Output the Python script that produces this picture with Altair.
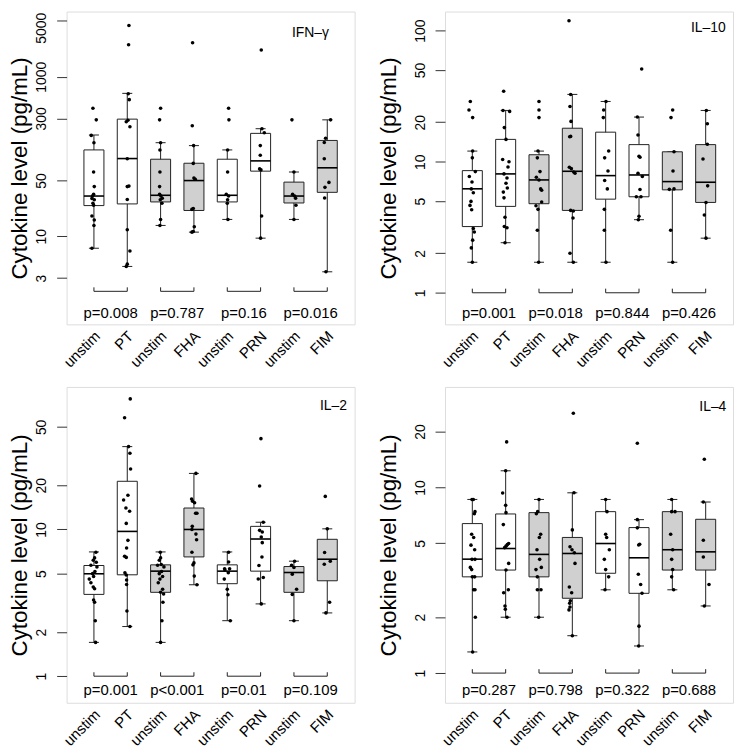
import altair as alt
import pandas as pd

groups = ["unstim", "PT", "unstim", "FHA", "unstim", "PRN", "unstim", "FIM"]
box_fill = ["#ffffff", "#ffffff", "#d0d0d0", "#d0d0d0", "#ffffff", "#ffffff", "#d0d0d0", "#d0d0d0"]
pair_start = [1, 3, 5, 7]

# ---------------- IFN-gamma ----------------
ifn_q1 = [24.3, 25.5, 27, 21.1, 27, 65.6, 26.2, 35.6]
ifn_med = [32, 94.3, 32.7, 50, 32.7, 88.2, 32, 72.2]
ifn_q3 = [121, 294, 92.5, 82.4, 92.5, 195, 47.8, 159]
ifn_lo = [7.1, 4.2, 13.7, 11.3, 16.3, 9.5, 16.3, 3.6]
ifn_hi = [186, 618, 149, 137, 121, 223, 64, 288]
ifn_pts = [
    [402, 288, 184, 149, 64, 42, 33.6, 32, 29.9, 28.8, 26, 24.5, 18, 16, 13.7, 7.1],
    [4375, 2515, 610, 516, 285, 272, 236, 94, 42.6, 42, 28.9, 12.1, 6.57, 4.49, 4.2],
    [402, 288, 149, 121, 64, 42, 33.6, 32, 30, 28.8, 26, 16.3, 13.7],
    [2663, 243, 137, 82, 53.7, 52, 22.3, 21.8, 13.2, 11.5, 11.3],
    [402, 288, 121, 64, 33.6, 32, 28.8, 26, 16.3],
    [2160, 223, 199, 137, 104, 70, 68, 18, 9.5],
    [288, 64, 33.6, 32, 30, 24.5, 16.3],
    [288, 169, 150, 94, 47.4, 41.1, 30.3, 3.6],
]
ifn_jit = [
    [-0.03, 0.07, -0.08, 0.0, -0.01, 0.01, -0.01, -0.04, -0.06, 0.01, -0.03, -0.01, -0.06, 0.01, 0.0, -0.06],
    [0.05, 0.04, 0.03, 0.06, 0.02, -0.03, 0.08, 0.0, 0.05, 0.0, 0.0, 0.0, 0.08, 0.0, -0.03],
    [0.0, -0.03, 0.0, -0.02, -0.02, -0.03, -0.03, 0.01, 0.05, -0.01, 0.04, 0.0, -0.02],
    [-0.04, -0.05, -0.01, -0.02, 0.0, 0.04, -0.02, -0.06, 0.01, -0.02, -0.06],
    [0.04, 0.05, 0.01, 0.01, -0.03, 0.04, 0.01, 0.0, 0.02],
    [0.02, 0.04, 0.11, -0.01, -0.01, -0.03, 0.01, 0.03, 0.0],
    [-0.06, 0.0, -0.04, 0.02, 0.05, 0.06, 0.0],
    [0.1, -0.05, -0.09, -0.09, 0.05, -0.07, -0.08, -0.04],
]
ifn_p = ["p=0.008", "p=0.787", "p=0.16", "p=0.016"]
ifn_ticks = [3, 10, 50, 300, 1000, 5000]
ifn_domain = [0.79, 6546]

# ---------------- IL-10 ----------------
il10_q1 = [3.2, 4.56, 4.78, 4.25, 5.18, 5.4, 6.1, 4.89]
il10_med = [6.21, 8.07, 7.26, 8.45, 7.83, 7.92, 7.05, 6.97]
il10_q3 = [8.55, 14.8, 11.3, 18.0, 16.8, 13.5, 11.9, 13.5]
il10_lo = [1.71, 2.41, 1.71, 1.71, 1.71, 3.61, 1.71, 2.61]
il10_hi = [12.05, 24.6, 12.05, 32.6, 28.8, 21.9, 11.9, 24.6]
il10_pts = [
    [28.8, 24.8, 21.7, 12.05, 10.7, 8.4, 7.7, 7.0, 6.2, 5.79, 4.98, 4.64, 4.3, 3.09, 2.91, 2.52, 2.2, 1.71],
    [34.5, 24.6, 24.2, 18.2, 14.8, 10.4, 10.0, 9.1, 8.07, 7.52, 6.85, 6.3, 5.86, 5.3, 3.77, 3.2, 3.13, 2.41],
    [28.8, 24.8, 21.7, 12.05, 10.7, 8.4, 7.6, 7.26, 6.2, 6.06, 4.92, 4.61, 4.33, 3.0, 1.71],
    [119, 32.6, 26.4, 20.3, 15.6, 15.5, 9.06, 8.85, 8.35, 8.16, 4.25, 4.2, 3.72, 2.0, 1.71],
    [28.8, 24.8, 21.7, 12.05, 10.7, 8.5, 7.18, 6.2, 4.33, 3.0, 1.71],
    [50.9, 21.9, 16.0, 11.0, 10.8, 8.16, 7.7, 6.14, 5.4, 5.4, 3.83, 3.61],
    [24.8, 21.7, 11.9, 8.5, 6.2, 6.15, 3.0, 1.71],
    [24.6, 19.5, 13.6, 10.5, 6.54, 4.89, 3.92, 2.61],
]
il10_jit = [
    [-0.06, -0.10, 0.01, 0.01, 0.0, 0.09, -0.09, -0.01, -0.03, 0.03, -0.04, -0.07, -0.02, 0.03, 0.06, 0.01, -0.03, 0.0],
    [-0.06, -0.08, 0.12, -0.04, 0.01, -0.09, 0.10, 0.07, -0.05, 0.04, 0.01, 0.05, -0.07, -0.05, -0.02, -0.04, 0.04, -0.02],
    [0.0, 0.0, 0.0, -0.03, -0.05, 0.03, -0.08, 0.0, 0.05, 0.08, 0.08, -0.09, -0.03, -0.05, -0.01],
    [-0.10, -0.05, -0.07, -0.04, -0.05, -0.08, -0.09, -0.03, 0.04, 0.08, -0.05, 0.03, 0.02, -0.07, 0.03],
    [0.01, -0.06, -0.07, 0.09, -0.03, 0.07, -0.03, 0.05, -0.04, -0.04, 0.01],
    [0.08, -0.05, -0.03, 0.0, 0.03, -0.03, 0.10, 0.03, -0.08, 0.06, 0.0, -0.02],
    [0.01, -0.04, 0.05, 0.02, 0.05, -0.09, -0.05, 0.01],
    [0.02, 0.05, 0.05, -0.08, 0.06, 0.01, -0.04, 0.01],
]
il10_p = ["p=0.001", "p=0.018", "p=0.844", "p=0.426"]
il10_ticks = [1, 2, 5, 10, 20, 50, 100]
il10_domain = [0.574, 139.8]

# ---------------- IL-2 ----------------
il2_q1 = [3.61, 4.91, 3.73, 6.5, 4.27, 5.2, 3.73, 4.47]
il2_med = [4.99, 9.7, 5.2, 10.0, 5.2, 8.61, 5.09, 6.27]
il2_q3 = [5.68, 21.3, 5.74, 14.0, 5.74, 10.5, 5.59, 8.57]
il2_lo = [1.70, 2.18, 1.70, 4.2, 2.39, 3.11, 2.39, 2.70]
il2_hi = [7.03, 36.7, 7.03, 24.1, 7.03, 11.2, 6.08, 10.1]
il2_pts = [
    [7.0, 6.4, 6.17, 5.98, 5.7, 5.56, 5.17, 5.0, 4.78, 4.59, 4.33, 4.05, 3.94, 3.31, 3.19, 2.39, 1.70],
    [77.6, 57.7, 36.7, 33.1, 25.8, 17.1, 15.9, 14.0, 13.3, 11.0, 8.43, 7.48, 6.57, 6.45, 5.07, 4.9, 4.52, 4.22, 2.78, 2.18],
    [7.0, 6.4, 6.17, 5.77, 5.7, 5.56, 5.17, 5.0, 4.78, 4.59, 4.33, 3.91, 3.73, 3.63, 3.19, 2.39, 1.70],
    [24.1, 16.1, 15.6, 15.2, 12.9, 12.9, 10.5, 10.0, 9.3, 8.52, 6.99, 5.92, 5.74, 4.81, 4.2],
    [7.0, 6.01, 5.39, 5.39, 5.3, 5.07, 4.59, 3.91, 3.59, 2.39],
    [41.6, 19.8, 11.2, 9.86, 9.6, 8.88, 8.13, 6.5, 5.68, 4.71, 4.6, 3.11],
    [6.08, 5.71, 5.5, 4.96, 3.91, 3.61, 2.39],
    [16.8, 10.1, 6.96, 6.08, 5.8, 3.19, 2.70],
]
il2_jit = [
    [0.06, 0.02, -0.02, 0.07, -0.09, 0.09, 0.03, -0.04, -0.01, -0.14, -0.09, -0.02, 0.02, -0.01, 0.02, 0.04, 0.05],
    [0.09, -0.08, 0.04, 0.08, 0.10, 0.02, -0.11, -0.04, 0.07, -0.03, 0.02, -0.02, -0.08, -0.03, -0.07, -0.03, -0.02, -0.02, -0.01, 0.08],
    [-0.01, 0.0, -0.04, 0.02, -0.09, 0.10, 0.03, -0.04, 0.06, -0.02, -0.07, 0.06, 0.0, 0.09, 0.07, 0.04, 0.0],
    [0.06, -0.07, -0.04, 0.02, 0.05, 0.09, -0.05, -0.06, 0.06, 0.08, -0.06, 0.0, -0.03, 0.01, 0.09],
    [0.04, 0.04, -0.08, 0.07, -0.07, 0.03, -0.09, 0.0, 0.02, 0.09],
    [0.01, -0.03, 0.08, -0.03, 0.05, 0.02, 0.05, 0.04, -0.05, 0.08, -0.07, 0.02],
    [0.02, -0.07, 0.0, -0.05, 0.08, -0.05, 0.0],
    [-0.06, 0.0, -0.08, 0.09, -0.09, 0.07, -0.04],
]
il2_p = ["p=0.001", "p<0.001", "p=0.01", "p=0.109"]
il2_ticks = [1, 2, 5, 10, 20, 50]
il2_domain = [0.659, 93.6]

# ---------------- IL-4 ----------------
il4_q1 = [3.3, 3.59, 3.3, 2.53, 3.45, 2.69, 3.59, 3.59]
il4_med = [4.11, 4.69, 4.36, 4.41, 4.99, 4.18, 4.62, 4.5]
il4_q3 = [6.39, 7.2, 7.32, 5.38, 7.41, 6.08, 7.41, 6.74]
il4_lo = [1.30, 2.0, 2.0, 1.59, 2.81, 1.40, 2.81, 2.3]
il4_hi = [8.62, 12.3, 8.62, 9.36, 8.62, 6.71, 8.62, 8.35]
il4_pts = [
    [8.62, 8.62, 7.41, 7.22, 5.6, 5.38, 4.89, 4.62, 4.1, 4.1, 3.71, 3.61, 3.3, 3.3, 2.81, 2.81, 2.0, 1.30],
    [17.6, 12.3, 9.33, 8.01, 7.32, 6.31, 4.99, 4.92, 4.83, 4.74, 3.9, 3.59, 2.81, 2.71, 2.3, 2.21, 2.0],
    [8.62, 7.41, 7.22, 5.6, 5.38, 4.62, 4.1, 3.71, 3.61, 3.3, 2.81, 2.81, 2.0],
    [25.1, 9.36, 5.91, 4.79, 4.62, 4.45, 3.9, 2.91, 2.71, 2.45, 2.38, 2.27, 2.19, 1.59],
    [8.62, 7.41, 5.6, 5.38, 4.62, 4.1, 3.61, 3.3, 2.81],
    [17.3, 6.71, 6.06, 4.95, 4.9, 3.41, 3.0, 2.69, 1.79, 1.40],
    [8.62, 7.41, 7.41, 5.6, 4.62, 4.1, 3.61, 3.3, 2.81],
    [14.2, 8.35, 5.2, 4.22, 3.0, 2.3],
]
il4_jit = [
    [-0.01, 0.03, 0.08, 0.06, -0.02, 0.04, -0.04, 0.07, -0.01, 0.08, -0.06, -0.02, 0.0, 0.07, 0.04, 0.08, 0.09, 0.01],
    [0.03, 0.0, -0.09, 0.0, 0.01, -0.07, 0.09, 0.05, 0.01, -0.03, 0.09, 0.01, 0.08, -0.06, -0.02, -0.01, 0.04],
    [0.0, -0.04, -0.08, 0.05, 0.01, -0.06, 0.02, 0.07, -0.09, -0.05, -0.05, 0.06, -0.01],
    [0.03, 0.05, 0.0, -0.07, -0.01, 0.06, 0.08, -0.09, -0.02, -0.06, -0.08, -0.07, -0.10, 0.0],
    [0.0, 0.04, 0.0, 0.03, 0.11, -0.04, 0.0, 0.09, -0.02],
    [-0.05, -0.05, -0.05, 0.02, -0.01, -0.02, 0.05, 0.09, 0.0, -0.01],
    [-0.02, -0.02, 0.08, -0.05, 0.01, -0.02, 0.01, -0.02, 0.04],
    [-0.04, -0.07, -0.07, -0.07, 0.10, -0.04],
]
il4_p = ["p=0.287", "p=0.798", "p=0.322", "p=0.688"]
il4_ticks = [1, 2, 5, 10, 20]
il4_domain = [0.692, 34.8]

FONT = "Liberation Sans"
LINE = "#222222"
label_expr = "[" + ",".join("'%s'" % g for g in groups) + "][datum.value - 1]"


def make_panel(name, q1, med, q3, lo, hi, pts, jit, pvals, ydomain, yticks,
               br_y, br_top, p_y, lab_x, lab_y, height, title_x, top_label_shift):
    xs = alt.Scale(domain=[0.18, 8.82], nice=False, zero=False)
    ys = alt.Scale(type="log", domain=ydomain, nice=False)
    xaxis = alt.Axis(values=list(range(1, 9)), labelExpr=label_expr, labelAngle=315,
                     labelAlign="right", labelBaseline="middle", labelFontSize=15,
                     labelPadding=9, labelOffset=3, ticks=False, domain=False, grid=False,
                     title=None, labelOverlap=False, labelFlush=False, labelColor="black",
                     labelFont=FONT)
    top_val = max(yticks)
    yaxis = alt.Axis(values=yticks, format="d", labelAngle=270, labelAlign="center",
                     labelBaseline="bottom", labelFontSize=14, labelPadding=8, tickSize=10,
                     labelOffset={"condition": {"test": "datum.value == %d" % top_val,
                                                "value": top_label_shift}, "value": 0},
                     tickColor="#333333", domain=False, grid=False,
                     title="Cytokine level (pg/mL)", titleFontSize=22.5, titleFontWeight="normal",
                     titleAngle=270, titleAlign="center", titleBaseline="alphabetic",
                     titleX=title_x, titleY=height / 2, labelOverlap=False, labelColor="black",
                     titleColor="black", labelFont=FONT, titleFont=FONT)

    def X(f):
        return alt.X(f, type="quantitative", scale=xs, axis=xaxis)

    def Y(f):
        return alt.Y(f, type="quantitative", scale=ys, axis=yaxis)

    g = list(range(1, 9))
    box = pd.DataFrame({"g": g, "q1": q1, "med": med, "q3": q3, "lo": lo, "hi": hi,
                        "fill": box_fill})
    box["b0"] = box["g"] - 0.3
    box["b1"] = box["g"] + 0.3
    box["c0"] = box["g"] - 0.15
    box["c1"] = box["g"] + 0.15

    rows = []
    for i in range(8):
        for v, j in zip(pts[i], jit[i]):
            rows.append({"px": g[i] + j, "v": v})
    pt_df = pd.DataFrame(rows)

    br = pd.DataFrame({"a": pair_start, "b": [s + 1 for s in pair_start],
                       "y": [br_y] * 4, "mid": [s + 0.5 for s in pair_start],
                       "py": [p_y] * 4, "txt": pvals})
    br_t = pd.DataFrame({"xe": g, "y": [br_y] * 8, "top": [br_top] * 8})
    lab = pd.DataFrame({"x": [lab_x], "y": [lab_y], "t": [name]})

    whisk = alt.Chart(box).mark_rule(color=LINE, strokeWidth=1).encode(x=X("g"), y=Y("lo"), y2="hi")
    cap_lo = alt.Chart(box).mark_rule(color=LINE, strokeWidth=1).encode(x=X("c0"), x2="c1", y=Y("lo"))
    cap_hi = alt.Chart(box).mark_rule(color=LINE, strokeWidth=1).encode(x=X("c0"), x2="c1", y=Y("hi"))
    rect = alt.Chart(box).mark_rect(stroke=LINE, strokeWidth=1).encode(
        x=X("b0"), x2="b1", y=Y("q1"), y2="q3", fill=alt.Fill("fill:N", scale=None))
    medl = alt.Chart(box).mark_rule(color="black", strokeWidth=1.6).encode(x=X("b0"), x2="b1", y=Y("med"))
    dots = alt.Chart(pt_df).mark_circle(size=13, color="black", opacity=1).encode(x=X("px"), y=Y("v"))
    brh = alt.Chart(br).mark_rule(color=LINE, strokeWidth=1).encode(x=X("a"), x2="b", y=Y("y"))
    brv = alt.Chart(br_t).mark_rule(color=LINE, strokeWidth=1).encode(x=X("xe"), y=Y("y"), y2="top")
    ptxt = alt.Chart(br).mark_text(fontSize=15, font=FONT, color="black", baseline="middle").encode(
        x=X("mid"), y=Y("py"), text="txt:N")
    ltxt = alt.Chart(lab).mark_text(fontSize=14, font=FONT, color="black", align="right",
                                    baseline="alphabetic").encode(x=X("x"), y=Y("y"), text="t:N")
    return alt.layer(whisk, cap_lo, cap_hi, rect, medl, dots, brh, brv, ptxt, ltxt).properties(
        width=290, height=height)


p1 = make_panel("IFN\u2013\u03b3", ifn_q1, ifn_med, ifn_q3, ifn_lo, ifn_hi, ifn_pts, ifn_jit, ifn_p,
                ifn_domain, ifn_ticks, 2.05, 2.3, 1.10, 8.05, 3130, 315, -40, 7)
p2 = make_panel("IL\u201310", il10_q1, il10_med, il10_q3, il10_lo, il10_hi, il10_pts, il10_jit, il10_p,
                il10_domain, il10_ticks, 1.0, 1.075, 0.706, 8.60, 97.3, 315, -50, 0)
p3 = make_panel("IL\u20132", il2_q1, il2_med, il2_q3, il2_lo, il2_hi, il2_pts, il2_jit, il2_p,
                il2_domain, il2_ticks, 1.0, 1.064, 0.80, 8.59, 65.7, 318, -40, 0)
p4 = make_panel("IL\u20134", il4_q1, il4_med, il4_q3, il4_lo, il4_hi, il4_pts, il4_jit, il4_p,
                il4_domain, il4_ticks, 1.0, 1.05, 0.81, 8.62, 25.8, 318, -50, 0)

chart = alt.concat(p1, p2, p3, p4, columns=2, spacing={"row": 63, "column": 91},
                   bounds="flush").properties(
    padding={"left": 0, "top": 0, "right": 0, "bottom": 0}
).configure_view(stroke="#333333", strokeWidth=1.2).configure(font=FONT)

chart.save("out.html", embed_options={"renderer": "svg", "actions": False})
